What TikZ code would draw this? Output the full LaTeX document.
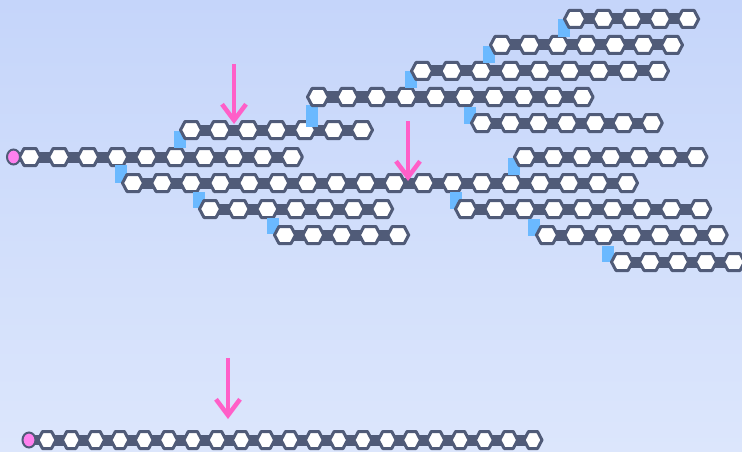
\documentclass[tikz,border=0pt]{standalone}
\usepackage[RGB]{xcolor}
\usetikzlibrary{arrows.meta}
\definecolor{bgtop}{RGB}{197,213,250}
\definecolor{bgbot}{RGB}{220,230,252}
\definecolor{chain}{RGB}{80,91,120}
\definecolor{tabblue}{RGB}{107,185,255}
\definecolor{endpink}{RGB}{255,128,238}
\definecolor{cutpink}{RGB}{255,95,200}
\newcommand{\drawhex}[3]{\draw[line width=3pt,draw=chain,fill=white,line join=round] ({#1},{#2}) ++({-#3-4.5},0)--++(4.5,8.5)--++({2*#3},0)--++(4.5,-8.5)--++(-4.5,-8.5)--++({-2*#3},0)--cycle;}
\newcommand{\hexrow}[5]{
    \draw[line width=11pt,draw=chain] ({#1},{#2})--({#1+(#3-1)*#4},{#2});
    \foreach \i in {1,...,#3}{
      \drawhex{#1+(\i-1)*#4}{#2}{#5}
    }
}
\newcommand{\drawtab}[3]{\fill[tabblue] (#1,#2) rectangle ++(12,#3);}
\newcommand{\drawend}[2]{\draw[line width=2pt,draw=chain,fill=endpink] (#1,#2) ellipse (6.5pt and 7.5pt);}
\tikzset{cut/.style={draw=cutpink,line width=4.5pt,-{Straight Barb[length=16pt,width=24pt]}}}

\begin{document}
\begin{tikzpicture}[x=1pt,y=-1pt]
\useasboundingbox (0,0) rectangle (742,452);
\shade[top color=bgtop,bottom color=bgbot] (0,0) rectangle (742,452);
\draw[line width=10pt,draw=chain] (14,157)--(30,157);
\hexrow{30}{157}{10}{29.1}{6}\drawend{13.5}{157}
\drawtab{174}{131}{17}\hexrow{191}{130}{7}{28.5}{6}
\drawtab{306}{105}{22}\hexrow{318}{97}{10}{29.4}{6}
\drawtab{405}{71}{17}\hexrow{422}{71}{9}{29.5}{6}
\drawtab{483}{46}{17}\hexrow{501}{45}{7}{28.5}{6}
\drawtab{558}{19}{18}\hexrow{575}{19}{5}{28.3}{6}
\drawtab{464}{107}{17}\hexrow{482}{123}{7}{28.3}{6}
\drawtab{115}{165}{18}\hexrow{133}{183}{18}{29.06}{6}
\drawtab{508}{158}{17}\hexrow{525}{157}{7}{28.6}{6}
\drawtab{193}{192}{16}\hexrow{210}{209}{7}{28.7}{6}
\drawtab{450}{192}{17}\hexrow{466}{209}{9}{29.3}{6}
\drawtab{267}{218}{16}\hexrow{285}{235}{5}{28.3}{6}
\drawtab{528}{219}{17}\hexrow{547}{235}{7}{28.3}{6}
\drawtab{602}{246}{16}\hexrow{622}{262}{5}{28}{6}
\draw[line width=10pt,draw=chain] (29,440)--(47,440);
\hexrow{47}{440}{21}{24.3}{4.5}\drawend{29}{440}
\coordinate (cutA from) at (234,64);\coordinate (cutA) at (234,124);
\coordinate (cutB from) at (408,121);\coordinate (cutB) at (408,181);
\coordinate (cutC from) at (228,358);\coordinate (cutC) at (228,419);
\draw[cut] (cutA from)--(cutA);
\draw[cut] (cutB from)--(cutB);
\draw[cut] (cutC from)--(cutC);
\end{tikzpicture}
\end{document}
